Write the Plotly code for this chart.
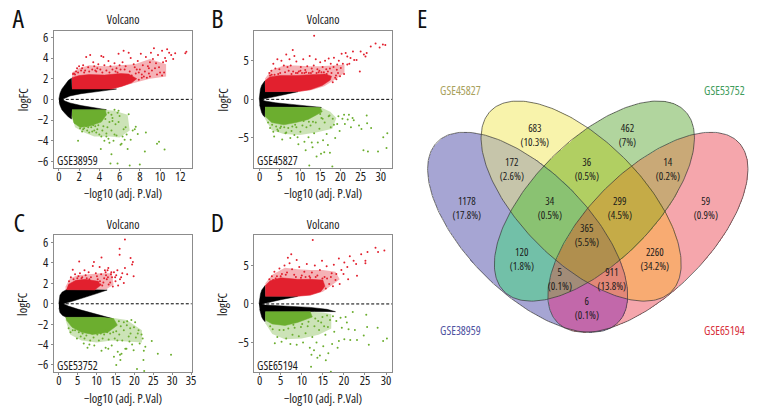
import numpy as np
import plotly.graph_objects as go

W, H = 780, 420
FONT = "Open Sans"
RED, GREEN, BLACK = "#e2202e", "#6cae2f", "#000000"

# ---- panel A, GSE38959
a_black_x = [0, 0.03, 0.12, 0.3, 0.6, 0.95, 1.25, 1.3, 3.2, 5.7, 4.2, 2.2, 1.1, 0.6, 0.35, 0.6, 1.1, 2.2, 3.6, 4.7, 3, 1.3, 1.25, 0.95, 0.6, 0.3, 0.12, 0.03]
a_black_y = [0, 0.3, 0.6, 1.0, 1.4, 1.85, 2.05, 1.0, 1.0, 1.0, 0.8, 0.55, 0.33, 0.14, 0, -0.16, -0.35, -0.6, -0.85, -1.0, -1.0, -1.0, -1.9, -1.7, -1.35, -1.0, -0.6, -0.3]
a_red_x = [1.3, 3.2, 5.2, 6.2, 7.2, 7.7, 6.9, 6.1, 4.5, 3.0, 2.0, 1.3]
a_red_y = [1.0, 0.98, 1.0, 1.25, 1.6, 2.0, 2.45, 2.5, 2.35, 2.4, 2.3, 2.1]
a_green_x = [1.3, 3.2, 4.6, 4.7, 4.2, 3.0, 2.1, 1.5, 1.3]
a_green_y = [-1.0, -1.0, -1.0, -1.5, -2.2, -2.6, -2.7, -2.3, -1.6]
a_halo_red_x = [1.3, 3.2, 5, 6, 7.5, 9, 10.6, 10.6, 9, 7.5, 6, 4.5, 3, 2, 1.3]
a_halo_red_y = [1, 1, 1, 1.2, 1.6, 2.0, 2.2, 3.4, 3.9, 3.4, 3.3, 3.2, 3.3, 3.0, 2.6]
a_halo_green_x = [1.3, 4.5, 5.5, 6.8, 7, 6, 5, 3.5, 2.5, 1.6, 1.3]
a_halo_green_y = [-1, -1, -1.1, -1.5, -3, -3.7, -3.6, -3.6, -3.2, -2.7, -1.6]
a_pts_red_x = [12.6, 12.5, 11.5, 11.3, 11.1, 10.9, 10.7, 10.6, 10.5, 10.3, 10.2, 10.4, 10.2, 10.0, 9.9, 9.8, 9.7, 9.5, 9.4, 9.3, 9.2, 9.1, 9.0, 8.9, 8.8, 8.7, 8.6, 8.5, 8.3, 8.2, 8.1, 8.0, 7.9, 7.8, 7.6, 7.5, 7.3, 7.1, 7.0, 6.9, 6.8, 6.6, 6.5, 6.4, 6.3, 6.1, 6.0, 5.9, 5.7, 5.5, 5.3, 5.1, 4.9, 4.7, 4.5, 4.4, 4.2, 4.1, 3.9, 3.8, 3.6, 3.4, 3.3, 3.1, 2.9, 2.7, 2.6, 2.4, 2.2, 2.0, 1.9, 1.7, 1.5, 1.4, 8.4, 7.7, 7.4, 9.6, 8.9, 6.7, 5.6, 5.0, 4.3, 3.7, 3.5, 3.0, 2.5, 2.3, 1.8, 1.6, 8.2, 9.0, 7.9, 7.2, 6.4, 5.8]
a_pts_red_y = [4.6, 4.45, 4.45, 3.9, 4.3, 4.5, 4.85, 3.7, 4.0, 3.6, 4.7, 2.6, 2.3, 2.6, 3.1, 4.3, 2.4, 3.0, 4.95, 3.9, 2.8, 4.5, 3.6, 2.5, 3.2, 2.1, 4.1, 2.7, 3.3, 2.4, 4.4, 2.9, 1.9, 3.7, 2.5, 3.1, 2.0, 4.0, 2.7, 4.5, 1.8, 3.2, 2.9, 4.7, 3.6, 2.9, 3.3, 4.4, 3.0, 3.5, 2.9, 3.2, 3.7, 2.8, 3.3, 4.1, 4.2, 2.9, 3.4, 3.0, 2.8, 3.6, 2.9, 4.3, 3.1, 4.1, 2.8, 3.3, 2.8, 3.2, 2.6, 2.7, 2.5, 2.45, 2.2, 2.9, 3.4, 3.5, 3.0, 2.2, 2.7, 2.6, 2.6, 2.7, 3.2, 2.7, 2.6, 3.0, 3.0, 2.4, 2.1, 2.2, 2.6, 2.3, 2.3, 2.6]
a_pts_green_x = [10.45, 9.9, 9.7, 8.5, 8.0, 7.0, 5.8, 5.1, 5.2, 4.15, 1.9, 7.6, 8.6, 7.8, 6.9, 5.9, 5.5, 6.6, 6.0, 6.3, 6.4, 6.2, 5.9, 5.7, 5.6, 5.4, 5.3, 5.2, 5.0, 4.9, 4.8, 4.7, 4.6, 4.5, 4.4, 4.3, 4.2, 4.0, 3.9, 3.8, 3.7, 3.6, 3.5, 3.4, 3.3, 3.2, 3.0, 2.9, 2.8, 2.7, 2.5, 2.4, 2.3, 2.2, 2.1, 7.1, 7.3, 7.5, 6.8, 6.7, 6.5, 5.0, 4.7, 6.1, 5.5, 5.2, 5.8, 5.3, 4.9, 4.6]
a_pts_green_y = [-4.85, -4.1, -4.3, -5.05, -6.3, -6.4, -6.2, -6.2, -5.3, -4.8, -4.0, -2.65, -3.2, -3.35, -1.45, -1.1, -1.0, -2.7, -1.6, -3.6, -2.9, -4.3, -2.2, -3.5, -2.4, -4.0, -1.8, -3.0, -2.2, -3.8, -2.7, -3.3, -1.9, -4.0, -2.6, -3.0, -3.6, -3.4, -2.5, -2.9, -3.2, -2.6, -3.0, -2.5, -3.1, -2.7, -3.2, -2.7, -3.0, -2.6, -2.8, -2.9, -3.1, -2.6, -2.8, -3.9, -3.0, -2.9, -4.8, -3.4, -3.9, -4.2, -3.6, -4.4, -3.4, -1.5, -1.3, -2.1, -1.3, -1.5]

# ---- panel B, GSE45827
b_black_x = [-0.1, 0.0, 0.2, 0.5, 0.9, 1.3, 1.35, 5, 9.5, 6, 3, 1.3, 0.5, 1.3, 4, 8, 12, 15.3, 10, 5, 1.35, 1.3, 0.9, 0.5, 0.2, 0.0]
b_black_y = [0, 0.7, 1.3, 1.8, 2.2, 2.4, 1.0, 0.98, 1.0, 0.6, 0.32, 0.14, 0, -0.2, -0.45, -0.65, -0.85, -1.05, -1.0, -1.0, -1.0, -2.3, -2.1, -1.7, -1.2, -0.7]
b_red_x = [1.35, 5, 9.5, 12.5, 15.5, 17.5, 17.8, 16.2, 13, 9, 5, 2.5, 1.35]
b_red_y = [1.0, 1.0, 1.02, 1.25, 1.8, 2.5, 3.0, 3.3, 3.2, 3.1, 3.1, 2.9, 2.4]
b_green_x = [1.35, 6, 11, 15, 15.5, 12, 9, 6, 3, 1.35]
b_green_y = [-1.0, -1.0, -1.0, -1.05, -1.6, -2.6, -3.0, -3.3, -3.0, -2.2]
b_halo_red_x = [1.35, 10, 13, 16, 18.5, 21, 21, 18, 15, 12, 9, 6, 3, 1.35]
b_halo_red_y = [1, 1, 1.2, 1.7, 2.5, 3.4, 4.5, 4.4, 4.3, 4.3, 4.4, 4.4, 3.8, 2.7]
b_halo_green_x = [1.35, 15, 17.5, 19, 18, 14, 10, 6, 3, 1.35]
b_halo_green_y = [-1, -1, -1.6, -2.4, -3.8, -4.3, -4.6, -4.5, -4, -2.5]
b_pts_red_x = [13.5, 31.1, 30.5, 28.7, 27.5, 29.7, 26.5, 26.2, 25, 25.8, 23.1, 23.4, 22.5, 21.7, 20.3, 21.3, 24.8, 21.7, 20.1, 19.1, 19.6, 18.4, 18.9, 17.6, 17.1, 16.5, 16.2, 15.6, 15.0, 14.3, 13.9, 13.4, 12.9, 12.4, 11.8, 11.3, 10.8, 10.2, 9.7, 9.1, 8.6, 8.2, 7.7, 7.2, 6.6, 6.0, 5.4, 4.9, 4.4, 3.9, 3.4, 2.9, 2.4, 8.3, 7.4, 6.9, 10.1, 11.5, 13.1, 14.8, 16.9, 17.8, 18.3, 18.7, 19.4, 20.6, 20.9, 22.2, 24.0, 19.2, 17.4, 15.9, 14.6, 12.2, 10.5, 9.4, 6.3, 5.1, 3.7, 4.6, 3.0, 2.6, 7.9, 9.0, 11.1, 12.7, 14.1, 15.3, 16.6, 18.1, 19.0, 19.9]
b_pts_red_y = [8.25, 7.05, 7.1, 7.25, 6.85, 6.7, 6.0, 5.55, 6.2, 5.8, 6.2, 5.1, 5.35, 5.55, 5.9, 6.0, 3.6, 4.5, 4.05, 3.85, 5.0, 5.4, 3.1, 4.6, 5.3, 3.9, 5.0, 4.2, 4.8, 3.9, 5.2, 4.4, 4.0, 5.6, 4.3, 3.8, 5.2, 4.2, 3.6, 4.9, 5.6, 6.4, 4.4, 3.7, 5.8, 4.4, 5.0, 3.9, 5.2, 4.0, 4.6, 3.7, 3.4, 3.6, 5.2, 4.2, 3.7, 3.5, 3.6, 3.7, 3.6, 3.4, 4.2, 2.8, 3.4, 4.6, 3.3, 4.6, 5.1, 4.5, 4.0, 3.5, 3.5, 3.4, 3.4, 3.4, 3.5, 3.4, 3.2, 3.3, 3.2, 3.1, 3.3, 3.4, 3.4, 3.4, 3.4, 3.5, 3.3, 2.2, 2.6, 3.0]
b_pts_green_x = [31.6, 30.6, 31.4, 29.3, 26.8, 25.7, 26.5, 26.6, 27.6, 25.2, 24.6, 23, 18, 12.3, 16, 15.2, 23.3, 22.6, 21.8, 21.1, 20.5, 19.8, 19.2, 18.7, 18.1, 17.6, 17.1, 16.6, 16.1, 15.7, 15.3, 14.8, 14.4, 13.9, 13.5, 13.1, 12.6, 12.1, 11.6, 11.1, 10.6, 10.1, 9.6, 9.1, 8.6, 8.1, 7.6, 7.1, 6.6, 6.1, 5.6, 5.1, 4.6, 4.1, 3.6, 3.1, 2.6, 2.1, 17.4, 16.9, 14.1, 12.9, 11.4, 9.4, 7.9, 6.4, 5.3, 19.5, 20.9, 22.1, 18.4, 15.6, 13.2, 10.9, 8.8, 17.3, 15.0, 12.2, 4.4, 3.4]
b_pts_green_y = [-4.4, -4.9, -6.3, -6.75, -6.75, -6.6, -2.1, -3.1, -3.7, -3.85, -3.4, -2.4, -8.7, -8.55, -6.85, -7.05, -2.7, -3.6, -2.6, -3.2, -2.5, -4.1, -3.2, -5.0, -2.5, -3.6, -2.2, -4.5, -3.0, -5.3, -2.4, -3.8, -5.6, -3.0, -4.4, -6.2, -3.4, -4.9, -3.6, -5.5, -3.4, -4.2, -5.8, -3.6, -4.6, -3.5, -5.0, -3.7, -4.3, -3.6, -5.2, -3.7, -4.1, -3.5, -4.8, -3.3, -3.7, -3.0, -6.9, -5.9, -7.4, -5.6, -6.6, -4.9, -4.1, -4.4, -3.5, -2.2, -2.0, -2.0, -3.3, -2.5, -2.9, -2.8, -3.3, -2.1, -1.9, -2.9, -3.9, -4.2]

# ---- panel C, GSE53752
c_black_x = [0, 0.05, 0.3, 0.9, 2, 5, 9.5, 12.8, 10, 7, 4, 1.2, 2.5, 5, 8, 11, 14.2, 11, 6, 2, 1, 0.3, 0.05]
c_black_y = [0, 0.4, 0.85, 1.15, 1.38, 1.38, 1.33, 1.35, 1.0, 0.62, 0.3, 0, -0.22, -0.52, -0.82, -1.12, -1.45, -1.33, -1.33, -1.33, -1.15, -0.85, -0.4]
c_red_x = [2, 5, 9.5, 11, 10.5, 7, 4.5, 2.5]
c_red_y = [1.38, 1.38, 1.35, 1.8, 2.2, 2.4, 2.3, 1.9]
c_green_x = [1.8, 6, 11, 14.5, 15.5, 13, 9, 6, 3.5, 2]
c_green_y = [-1.33, -1.33, -1.33, -1.45, -2.1, -2.8, -3.0, -2.8, -2.3, -1.6]
c_halo_red_x = [1.8, 10, 12.5, 14.5, 14, 11, 8, 5, 3, 1.8]
c_halo_red_y = [1.35, 1.35, 1.4, 1.9, 3.0, 3.0, 2.9, 2.8, 2.5, 1.7]
c_halo_green_x = [1.8, 14.5, 18, 22, 22, 18, 14, 10, 6, 3, 1.8]
c_halo_green_y = [-1.3, -1.4, -1.6, -2.6, -3.8, -3.7, -3.6, -3.8, -3.6, -3, -1.6]
c_pts_red_x = [17.5, 16.1, 16.1, 19, 19.6, 19.4, 17.5, 19.8, 18.1, 17.2, 5.4, 9.3, 11.3, 3.7, 16.8, 16.2, 15.5, 15.0, 14.6, 14.1, 13.6, 13.1, 12.7, 12.2, 11.8, 11.2, 10.8, 10.3, 9.8, 9.0, 8.5, 7.9, 7.4, 6.8, 6.2, 5.6, 4.9, 4.3, 3.2, 2.7, 15.7, 14.9, 13.8, 13.2, 12.5, 12.0, 11.5, 10.9, 10.1, 8.1, 7.1, 6.0, 5.2, 3.9, 14.3, 13.0, 11.0, 12.9, 12.4, 13.9, 15.2, 16.5]
c_pts_red_y = [6.3, 5.4, 4.8, 4.5, 4.1, 3.85, 3.5, 2.7, 2.9, 2.05, 4.15, 4.1, 4.55, 3.35, 3.0, 2.4, 3.3, 2.2, 3.1, 2.6, 2.1, 3.5, 2.4, 3.3, 2.1, 2.9, 3.6, 2.4, 3.0, 3.7, 2.6, 3.1, 2.5, 3.3, 2.6, 3.0, 2.5, 2.9, 2.6, 2.2, 1.8, 2.6, 2.9, 1.9, 2.8, 2.5, 1.8, 2.2, 2.7, 2.4, 2.8, 2.5, 2.7, 2.4, 1.7, 2.6, 1.9, 3.3, 3.1, 3.1, 2.8, 2.6]
c_pts_green_x = [29.7, 26.2, 24.6, 22.6, 20.7, 22.4, 15.2, 16.3, 14.6, 22.9, 22.2, 19.8, 21.1, 22.5, 21.9, 21.4, 20.9, 20.4, 19.9, 19.4, 18.9, 18.5, 18.0, 17.6, 17.2, 16.8, 16.4, 16.0, 15.6, 15.2, 14.8, 14.4, 14.0, 13.6, 13.2, 12.8, 12.4, 12.0, 11.6, 11.1, 10.6, 10.2, 9.7, 9.2, 8.8, 8.3, 7.8, 7.3, 6.8, 6.3, 5.8, 5.3, 4.8, 4.3, 3.7, 3.1, 2.6, 7.6, 9.4, 11.3, 13.1, 16.6, 17.9, 18.7, 19.2, 18.1, 20.2, 17.2, 15.9, 14.1, 12.6, 15.5, 16.2, 19.0, 8.1, 6.6]
c_pts_green_y = [-5.0, -4.9, -3.65, -6.6, -6.4, -5.5, -6.0, -5.5, -5.2, -4.2, -3.4, -4.55, -2.6, -4.6, -3.0, -3.9, -2.9, -3.3, -2.3, -4.0, -2.4, -3.2, -2.1, -4.4, -2.6, -3.6, -2.2, -3.0, -4.7, -2.7, -3.4, -2.8, -4.1, -2.9, -3.5, -2.8, -4.3, -3.0, -3.4, -2.9, -3.6, -3.0, -2.8, -3.3, -2.9, -3.6, -2.8, -3.1, -3.4, -2.9, -3.2, -2.8, -3.4, -2.6, -2.6, -2.8, -2.4, -4.3, -4.1, -4.6, -4.4, -4.9, -4.4, -3.7, -1.6, -1.7, -1.8, -1.8, -1.7, -1.6, -2.6, -3.6, -5.0, -2.9, -4.0, -3.9]

# ---- panel D, GSE65194
d_black_x = [-0.15, 0.0, 0.2, 0.5, 0.9, 1.3, 1.35, 5, 9, 5, 1.4, 0.5, 1.4, 5, 9, 12, 16, 18, 13, 8, 1.35, 1.3, 0.9, 0.5, 0.2, 0.0]
d_black_y = [0, 0.7, 1.3, 1.8, 2.2, 2.4, 1.0, 0.98, 0.98, 0.55, 0.18, 0, -0.15, -0.25, -0.3, -0.45, -0.7, -1.0, -0.98, -1.0, -1.0, -2.3, -2.1, -1.7, -1.2, -0.7]
d_red_x = [1.35, 5, 9, 12, 14.5, 15.5, 15, 12, 9, 5, 2.5, 1.35]
d_red_y = [1.0, 1.0, 1.0, 1.15, 1.6, 2.3, 3.1, 3.2, 3.2, 3.4, 3.0, 2.4]
d_green_x = [1.35, 5, 9, 12, 12.5, 9, 6, 3, 1.35]
d_green_y = [-1.0, -1.0, -1.0, -1.0, -1.7, -2.4, -2.8, -2.6, -2.1]
d_halo_red_x = [1.35, 9, 12, 15, 17.5, 19, 18, 15, 12, 9, 6, 3, 1.35]
d_halo_red_y = [1, 1, 1.1, 1.6, 2.6, 3.2, 4.2, 4.4, 4.4, 4.5, 4.7, 3.8, 2.7]
d_halo_green_x = [1.35, 12, 15, 17, 17, 14, 10, 6, 3, 1.35]
d_halo_green_y = [-1, -1, -1.1, -1.3, -3.2, -4, -4.5, -4.6, -3.9, -2.5]
d_pts_red_x = [12.6, 29.6, 27.5, 28.1, 25.6, 24.1, 25.1, 25.1, 23.1, 21.4, 18.8, 7.5, 6.7, 22.9, 22.3, 20.8, 20.1, 19.4, 18.2, 17.6, 17.1, 16.5, 15.9, 15.4, 14.8, 14.3, 13.7, 13.1, 12.4, 11.8, 11.2, 10.6, 10.0, 9.4, 8.8, 8.2, 7.7, 7.1, 6.5, 5.9, 5.3, 4.7, 4.1, 3.5, 2.9, 2.3, 19.0, 18.0, 16.9, 16.0, 14.9, 13.3, 10.9, 8.6, 6.2, 5.0, 3.8, 3.2, 15.7, 14.5, 12.0, 9.8, 17.4, 19.9, 21.0]
d_pts_red_y = [8.3, 6.95, 7.3, 6.75, 6.75, 6.45, 5.6, 5.3, 3.65, 6.2, 5.9, 6.45, 6.0, 5.2, 5.6, 4.8, 5.4, 4.4, 3.9, 5.1, 4.0, 2.6, 4.9, 3.5, 5.6, 4.4, 3.7, 5.0, 4.1, 3.6, 5.2, 4.2, 3.7, 4.8, 5.7, 3.8, 4.5, 5.3, 4.1, 5.0, 3.9, 4.6, 3.6, 4.2, 3.6, 3.2, 2.6, 3.1, 3.5, 3.3, 3.3, 3.5, 3.5, 3.5, 3.8, 3.6, 3.3, 3.1, 2.0, 2.6, 3.4, 3.4, 2.3, 3.9, 3.2]
d_pts_green_x = [30.2, 29.3, 28, 25.9, 25.5, 25.3, 22.1, 24.7, 23.1, 16.9, 12.2, 15.7, 13.7, 12.9, 22.6, 21.5, 20.7, 20.1, 19.5, 18.8, 18.2, 17.7, 17.2, 16.7, 16.2, 15.6, 15.1, 14.6, 14.1, 13.5, 13.0, 12.5, 11.9, 11.4, 10.9, 10.3, 9.8, 9.3, 8.8, 8.3, 7.8, 7.3, 6.8, 6.3, 5.7, 5.2, 4.7, 4.2, 3.6, 3.1, 2.5, 19.2, 17.4, 16.0, 14.9, 13.2, 11.6, 10.1, 8.0, 18.5, 16.3, 14.3, 12.3, 15.3, 13.9, 20.4, 21.1]
d_pts_green_y = [-4.5, -4.8, -3.1, -5.3, -3.0, -1.4, -1.05, -4.1, -4.7, -8.8, -8.15, -7.3, -7.0, -6.0, -3.4, -4.7, -2.4, -4.6, -3.1, -4.8, -2.2, -3.6, -5.2, -2.1, -3.0, -4.0, -5.5, -2.4, -3.4, -5.0, -2.9, -4.3, -5.7, -2.9, -3.8, -5.0, -3.0, -4.2, -5.3, -3.1, -4.0, -5.2, -3.2, -4.5, -3.4, -4.9, -3.4, -4.3, -5.1, -3.3, -2.9, -1.8, -1.6, -1.5, -1.7, -1.9, -2.3, -2.6, -2.7, -5.7, -6.4, -6.7, -6.6, -2.9, -2.2, -1.7, -3.3]

# ---- venn counts
venn_counts = ["683", "462", "172", "36", "14", "1178", "34", "299", "59", "365", "120", "2260", "5", "911", "6"]
venn_percents = ["10.3%", "7%", "2.6%", "0.5%", "0.2%", "17.8%", "0.5%", "4.5%", "0.9%", "5.5%", "1.8%", "34.2%", "0.1%", "13.8%", "0.1%"]
venn_text_x = [539, 633.3, 516, 592, 673.3, 471, 555, 625.7, 711.7, 591.7, 526.7, 660.7, 565, 617.3, 591.7]
venn_text_y = [134, 134, 169, 169, 169, 208, 208, 208, 208, 235, 259.5, 259.5, 280, 280, 309]
venn_names = ["GSE38959", "GSE45827", "GSE53752", "GSE65194"]
# colour of each overlap, key is membership in blue, yellow, green, red
venn_colors = {
    (1, 0, 0, 0): (166, 165, 211), (0, 1, 0, 0): (248, 243, 171), (0, 0, 1, 0): (177, 213, 158), (0, 0, 0, 1): (245, 166, 172),
    (1, 1, 0, 0): (198, 197, 170), (0, 1, 1, 0): (177, 207, 98), (0, 0, 1, 1): (201, 169, 119), (1, 0, 1, 0): (114, 192, 168),
    (0, 1, 0, 1): (248, 171, 114), (1, 0, 0, 1): (194, 104, 170), (1, 1, 1, 0): (138, 194, 114), (0, 1, 1, 1): (197, 171, 71),
    (1, 1, 0, 1): (226, 136, 120), (1, 0, 1, 1): (162, 140, 120), (1, 1, 1, 1): (176, 143, 78),
}

panels = [
    dict(letter="A", name="GSE38959", box=(54.3, 193.3, 29.3, 167.3), xr=(-0.49, 13.14), yr=(-6.61, 6.61), xt=[0, 2, 4, 6, 8, 10, 12], yt=[-6, -4, -2, 0, 2, 4, 6],
         black=(a_black_x, a_black_y), red=(a_red_x, a_red_y), green=(a_green_x, a_green_y), hr=(a_halo_red_x, a_halo_red_y), hg=(a_halo_green_x, a_halo_green_y),
         pr=(a_pts_red_x, a_pts_red_y), pg=(a_pts_green_x, a_pts_green_y), lx=18, ly=16),
    dict(letter="B", name="GSE45827", box=(256.3, 395, 29.3, 167.3), xr=(-1.3, 32.75), yr=(-8.85, 8.85), xt=[0, 5, 10, 15, 20, 25, 30], yt=[-5, 0, 5],
         black=(b_black_x, b_black_y), red=(b_red_x, b_red_y), green=(b_green_x, b_green_y), hr=(b_halo_red_x, b_halo_red_y), hg=(b_halo_green_x, b_halo_green_y),
         pr=(b_pts_red_x, b_pts_red_y), pg=(b_pts_green_x, b_pts_green_y), lx=219, ly=16),
    dict(letter="C", name="GSE53752", box=(54.3, 193.3, 235.7, 374), xr=(-1.3, 35.2), yr=(-6.73, 6.7), xt=[0, 5, 10, 15, 20, 25, 30, 35], yt=[-6, -4, -2, 0, 2, 4, 6],
         black=(c_black_x, c_black_y), red=(c_red_x, c_red_y), green=(c_green_x, c_green_y), hr=(c_halo_red_x, c_halo_red_y), hg=(c_halo_green_x, c_halo_green_y),
         pr=(c_pts_red_x, c_pts_red_y), pg=(c_pts_green_x, c_pts_green_y), lx=18, ly=222),
    dict(letter="D", name="GSE65194", box=(256.3, 395, 235.7, 374), xr=(-1.26, 31.4), yr=(-8.9, 8.9), xt=[0, 5, 10, 15, 20, 25, 30], yt=[-5, 0, 5],
         black=(d_black_x, d_black_y), red=(d_red_x, d_red_y), green=(d_green_x, d_green_y), hr=(d_halo_red_x, d_halo_red_y), hg=(d_halo_green_x, d_halo_green_y),
         pr=(d_pts_red_x, d_pts_red_y), pg=(d_pts_green_x, d_pts_green_y), lx=219, ly=222),
]

fig = go.Figure()
annotations = []
shapes = []
layout = {}


def note(x, y, text, size=12, color="#1a1a1a", angle=0):
    annotations.append(dict(x=x, y=y, xref="x5", yref="y5", text=text, showarrow=False, xanchor="center", yanchor="middle",
                            textangle=angle, borderpad=0, font=dict(family=FONT, size=size, color=color)))


for i, p in enumerate(panels):
    ax = str(i + 1)
    l, r, t, b = p["box"]
    xa, ya = "x" + ax, "y" + ax
    # speckled zone around the solid core of each cloud
    for (xs, ys), col in [(p["hr"], RED), (p["hg"], GREEN)]:
        fig.add_trace(go.Scatter(x=xs, y=ys, xaxis=xa, yaxis=ya, mode="none", fill="toself", fillcolor="rgba(0,0,0,0)",
                                 fillpattern=dict(shape=".", size=2, solidity=0.7, fgcolor=col, bgcolor="rgba(0,0,0,0)"),
                                 hoverinfo="skip", showlegend=False))
    for (xs, ys), col in [(p["black"], BLACK), (p["red"], RED), (p["green"], GREEN)]:
        fig.add_trace(go.Scatter(x=xs, y=ys, xaxis=xa, yaxis=ya, mode="lines", fill="toself", fillcolor=col,
                                 line=dict(width=0.5, color=col), hoverinfo="skip", showlegend=False))
    for (xs, ys), col in [(p["pr"], RED), (p["pg"], GREEN)]:
        fig.add_trace(go.Scatter(x=xs, y=ys, xaxis=xa, yaxis=ya, mode="markers", marker=dict(size=2, color=col),
                                 showlegend=False))
    common = dict(showgrid=False, zeroline=False, showline=True, mirror=True, linecolor="#8c8c8c", linewidth=1,
                  ticks="outside", ticklen=2, tickcolor="#8c8c8c", tickfont=dict(family=FONT, size=12.5, color="#1a1a1a"))
    layout["xaxis" + ax] = dict(common, domain=[l / W, r / W], range=list(p["xr"]), tickvals=p["xt"], anchor=ya, ticklabelstandoff=-5)
    layout["yaxis" + ax] = dict(common, domain=[1 - b / H, 1 - t / H], range=list(p["yr"]), tickvals=p["yt"], anchor=xa, tickformat="d")
    shapes.append(dict(type="line", xref=xa, yref=ya, x0=p["xr"][0] + (p["xr"][1] - p["xr"][0]) * 0.05, x1=p["xr"][1], y0=0, y1=0,
                       line=dict(color="#000000", width=1, dash="3px,2px")))
    note((l + r) / 2, t - 11.5, "Volcano", size=12)
    note(l + 23.5, b - 7.5, p["name"], size=11.7)
    note(p["lx"], p["ly"], p["letter"], size=26, color="#111111")
    note((l + r) / 2, b + 26.5, "\u2212log10 (adj. P.Val)", size=12.5)
    note(l - 31.5, (t + b) / 2, "logFC", size=12.5, angle=-90)

note(425, 16, "E", size=26, color="#111111")

# venn sets: one ellipse shape turned 45 degrees, in pixel space of the overlay axis
ellipses = [(532.0, 232.5, 1), (586.0, 201.0, 1), (599.4, 201.0, -1), (653.4, 232.5, -1)]
A, B = 129.0, 61.4
px, py = np.meshgrid(np.arange(W) + 0.5, np.arange(H) + 0.5)
masks = []
t = np.linspace(0, 2 * np.pi, 240)
for cx, cy, sign in ellipses:
    dx, dy = (px - cx) * sign, py - cy
    masks.append(((dx + dy) ** 2 / 2 / A ** 2 + (dx - dy) ** 2 / 2 / B ** 2) <= 1)
rgba = np.zeros((H, W, 4), dtype=float)
for key, col in venn_colors.items():
    hit = np.ones((H, W), dtype=bool)
    for m, k in zip(masks, key):
        hit &= m if k else ~m
    rgba[hit] = list(col) + [1]
fig.add_trace(go.Image(z=rgba, colormodel="rgba", x0=0.5, y0=0.5, dx=1, dy=1, xaxis="x5", yaxis="y5", hoverinfo="skip"))
for cx, cy, sign in ellipses:
    u, v = A * np.cos(t), B * np.sin(t)
    fig.add_trace(go.Scatter(x=cx + (u + v) / np.sqrt(2) * sign, y=cy + (u - v) / np.sqrt(2), xaxis="x5", yaxis="y5", mode="lines",
                             line=dict(color="#3a3a3a", width=0.7), hoverinfo="skip", showlegend=False))

# one text block per region, the line gap is plotly's own
for c, pc, x, y in zip(venn_counts, venn_percents, venn_text_x, venn_text_y):
    note(x, y, c + "<br>(" + pc + ")", size=10.5)

note(464.3, 331.3, venn_names[0], size=11.7, color="#4f52a0")
note(464.3, 88.7, venn_names[1], size=11.7, color="#a9a15c")
note(731, 88.7, venn_names[2], size=11.7, color="#3f9c5c")
note(731, 331.3, venn_names[3], size=11.7, color="#d8303c")

layout["xaxis5"] = dict(domain=[0, 1], range=[0, W], visible=False, anchor="y5", fixedrange=True)
layout["yaxis5"] = dict(domain=[0, 1], range=[H, 0], visible=False, anchor="x5", fixedrange=True)

fig.update_layout(width=W, height=H, margin=dict(l=0, r=0, t=0, b=0), paper_bgcolor="white", plot_bgcolor="rgba(0,0,0,0)",
                  showlegend=False, annotations=annotations, shapes=shapes, **layout)
# condensed text, and a page exactly as big as the figure
page_css = "var s=document.createElement('style');s.textContent='text{font-stretch:75%}html,body{margin:0;width:780px;height:420px;overflow:hidden}';document.head.appendChild(s);"
fig.write_html("out.html", config=dict(displayModeBar=False), post_script=page_css)
